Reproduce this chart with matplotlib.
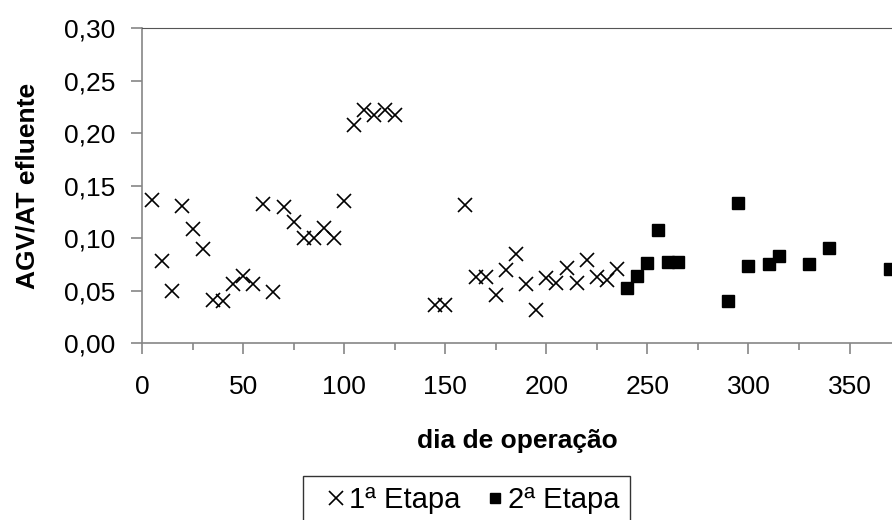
import matplotlib
matplotlib.use("Agg")
import matplotlib.pyplot as plt
from matplotlib.ticker import MultipleLocator, FuncFormatter

plt.rcParams['font.family'] = ['Liberation Sans', 'DejaVu Sans']

# 1a etapa
dia1 = [5, 10, 15, 20, 25, 30, 35, 40, 45, 50, 55, 60, 65, 70, 75, 80, 85, 90, 95, 100,
        105, 110, 115, 120, 125, 145, 150, 160, 165, 170, 175, 180, 185, 190, 195, 200,
        205, 210, 215, 220, 225, 230, 235]
agv1 = [0.136, 0.078, 0.050, 0.131, 0.109, 0.090, 0.041, 0.040, 0.056, 0.064, 0.056, 0.133,
        0.049, 0.130, 0.115, 0.100, 0.100, 0.110, 0.100, 0.135, 0.208, 0.222, 0.217, 0.222,
        0.217, 0.036, 0.036, 0.132, 0.063, 0.063, 0.046, 0.070, 0.085, 0.056, 0.032, 0.062,
        0.057, 0.072, 0.057, 0.079, 0.063, 0.060, 0.071]

# 2a etapa
dia2 = [240, 245, 250, 255, 260, 265, 290, 295, 300, 310, 315, 330, 340, 370]
agv2 = [0.053, 0.064, 0.076, 0.108, 0.077, 0.077, 0.040, 0.134, 0.074, 0.075, 0.083,
        0.075, 0.091, 0.071]

fs = 19

fig = plt.figure(figsize=(8.92, 5.2), dpi=100)
ax = fig.add_axes([0.1592, 0.3398, 0.8408, 0.6062])

ax.plot(dia1, agv1, linestyle='none', marker='x', markersize=10, markeredgewidth=1.2,
        color='black', label='1ª Etapa')
ax.plot(dia2, agv2, linestyle='none', marker='s', markersize=8.5, color='black',
        label='2ª Etapa')

ax.set_xlim(0, 371)
ax.set_ylim(0, 0.30)
ax.xaxis.set_major_locator(MultipleLocator(50))
ax.xaxis.set_minor_locator(MultipleLocator(25))
ax.yaxis.set_major_locator(MultipleLocator(0.05))
ax.yaxis.set_major_formatter(FuncFormatter(lambda v, p: f"{v:.2f}".replace('.', ',')))

for s in ['left', 'bottom']:
    ax.spines[s].set_color('#868686')
    ax.spines[s].set_linewidth(1.2)
ax.spines['top'].set_color('#555555')
ax.spines['right'].set_visible(False)
ax.tick_params(which='both', direction='out', width=1.2, color='#868686', labelsize=fs)
ax.tick_params(which='major', length=8)
ax.tick_params(which='minor', length=5)
ax.tick_params(axis='x', which='major', pad=15)
ax.tick_params(axis='y', which='major', pad=11)

ax.set_xlabel('dia de operação', fontsize=fs, fontweight='bold')
ax.set_ylabel('AGV/AT efluente', fontsize=fs, fontweight='bold')
ax.xaxis.set_label_coords(0.5, -0.272)
ax.yaxis.set_label_coords(-0.137, 0.5)

leg = fig.legend(loc='upper center', bbox_to_anchor=(0.5228, 0.0846), ncol=2,
                 fontsize=21, frameon=True, fancybox=False, edgecolor='black',
                 handlelength=1.58, handletextpad=-0.34, columnspacing=0.39,
                 borderpad=0.34, borderaxespad=0, markerscale=1.0)
leg.get_frame().set_linewidth(1.0)
leg.legend_handles[1].set_markersize(6.5)

fig.savefig('out.png', dpi=100)
